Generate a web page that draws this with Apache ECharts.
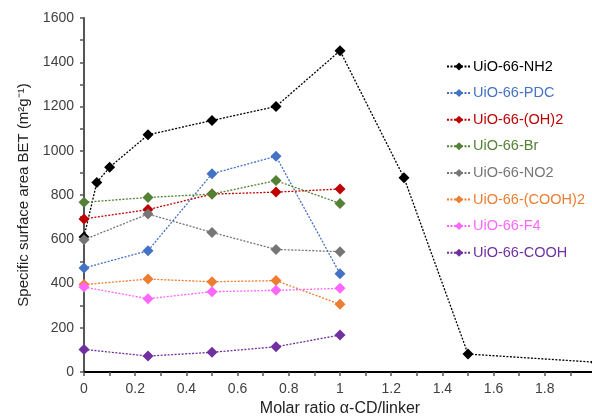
<!DOCTYPE html>
<html>
<head>
<meta charset="utf-8">
<script src="https://cdn.jsdelivr.net/npm/echarts@6/dist/echarts.min.js"></script>
<style>
  html, body { margin: 0; padding: 0; background: #fff; }
  #chart { width: 592px; height: 417px; }
</style>
</head>
<body>
<div id="chart"></div>
<script>
// Molar ratio α-CD / linker
const ratiosNH2 = [0, 0.05, 0.1, 0.25, 0.5, 0.75, 1, 1.25, 1.5, 2];
const ratiosOther = [0, 0.25, 0.5, 0.75, 1];

// BET surface areas (m²/g)
const nh2 = [610, 857, 925, 1072, 1137, 1200, 1452, 878, 81, 44];
const pdc = [470, 548, 896, 975, 444];
const oh2 = [692, 734, 804, 813, 827];
const br = [767, 789, 804, 865, 762];
const no2 = [598, 714, 631, 554, 544];
const cooh2 = [395, 420, 408, 413, 306];
const f4 = [384, 331, 363, 369, 378];
const cooh = [102, 72, 89, 114, 167];

const seriesNames = ['UiO-66-NH2', 'UiO-66-PDC', 'UiO-66-(OH)2', 'UiO-66-Br',
  'UiO-66-NO2', 'UiO-66-(COOH)2', 'UiO-66-F4', 'UiO-66-COOH'];
const seriesColors = ['#000000', '#4472C4', '#C00000', '#548235',
  '#767676', '#ED7D31', '#FF66FF', '#7030A0'];
const seriesValues = [nh2, pdc, oh2, br, no2, cooh2, f4, cooh];

const pairs = (xs, ys) => ys.map((v, i) => [xs[i], v]);

const chart = echarts.init(document.getElementById('chart'), null, { renderer: 'canvas' });

const series = seriesNames.map((name, i) => ({
  name: name,
  type: 'line',
  data: pairs(i === 0 ? ratiosNH2 : ratiosOther, seriesValues[i]),
  symbol: 'diamond',
  symbolSize: 11,
  showSymbol: true,
  itemStyle: { color: seriesColors[i] },
  lineStyle: { color: seriesColors[i], width: 1.3, type: [2, 1.5] },
  emphasis: { disabled: true },
  animation: false,
  z: 2 + i
}));

const FONT = '"Liberation Sans", Arial, sans-serif';
const axisFont = { fontFamily: FONT, fontSize: 14, color: '#404040' };

chart.setOption({
  animation: false,
  grid: { left: 84, top: 18, right: -4, bottom: 45, containLabel: false, outerBoundsMode: 'none' },
  legend: {
    orient: 'vertical',
    left: 441,
    top: 54,
    itemGap: 11.6,
    itemWidth: 24,
    itemHeight: 10,
    data: seriesNames.map((n, i) => ({ name: n, textStyle: { color: seriesColors[i] } })),
    textStyle: { fontFamily: FONT, fontSize: 14.5, padding: [0, 0, 0, -3] }
  },
  xAxis: [{
    type: 'value',
    min: 0,
    max: 2,
    interval: 0.2,
    name: 'Molar ratio α-CD/linker',
    nameLocation: 'middle',
    nameGap: 28,
    nameTextStyle: { fontFamily: FONT, fontSize: 16, color: '#222' },
    axisLine: { show: true, onZero: false, lineStyle: { color: '#7f7f7f', width: 2 } },
    axisTick: { show: true, inside: false, length: 4, lineStyle: { color: '#555', width: 1.5 } },
    minorTick: { show: true, splitNumber: 2, length: 4, lineStyle: { color: '#555', width: 1.5 } },
    splitLine: { show: false },
    axisLabel: Object.assign({ margin: 10, formatter: v => String(+v.toFixed(1)) }, axisFont)
  }, {
    type: 'value',
    position: 'top',
    min: 0,
    max: 2,
    axisLine: { show: true, lineStyle: { color: '#000', width: 2 } },
    axisTick: { show: false },
    axisLabel: { show: false },
    splitLine: { show: false }
  }],
  yAxis: {
    type: 'value',
    min: 0,
    max: 1600,
    interval: 200,
    name: 'Specific surface area BET (m²g⁻¹)',
    nameLocation: 'middle',
    nameGap: 53,
    nameRotate: 90,
    nameTextStyle: { fontFamily: FONT, fontSize: 15, color: '#222' },
    axisLine: { show: true, lineStyle: { color: '#555', width: 2 } },
    axisTick: { show: true, inside: false, length: 4, lineStyle: { color: '#555', width: 1.5 } },
    minorTick: { show: true, splitNumber: 2, length: 4, lineStyle: { color: '#555', width: 1.5 } },
    splitLine: { show: false },
    axisLabel: Object.assign({ margin: 10, formatter: v => String(v) }, axisFont)
  },
  series: series
});
</script>
</body>
</html>
